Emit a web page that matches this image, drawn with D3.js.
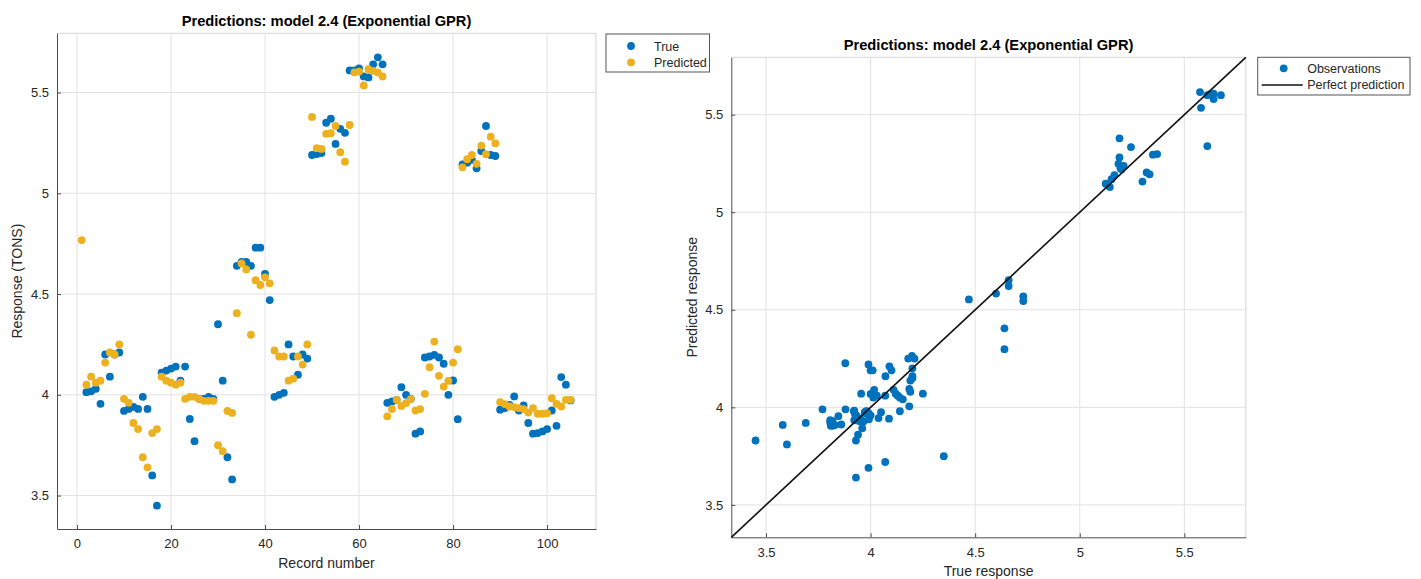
<!DOCTYPE html>
<html>
<head>
<meta charset="utf-8">
<script src="https://cdn.jsdelivr.net/npm/d3@7"></script>
<style>
  body { margin: 0; background: #fff; }
  text { font-family: "Liberation Sans", Arial, sans-serif; fill: #262626; }
  .grid line { stroke: #e2e2e2; }
</style>
</head>
<body>
<div id="chart"></div>
<script>
(function () {

    // record n is at index n - 1 (record 1 has no true value on the axes)
    const trueResp = [null, 4.013, 4.017, 4.03, 3.955, 4.20, 4.09, 4.20, 4.21, 3.92,
        3.93, 3.94, 3.93, 3.99, 3.93, 3.60, 3.45, 4.11, 4.12, 4.13,
        4.14, 4.07, 4.14, 3.88, 3.77, 3.98, 3.98, 3.99, 3.98, 4.35,
        4.07, 3.69, 3.58, 4.64, 4.66, 4.66, 4.64, 4.73, 4.73, 4.60,
        4.47, 3.99, 4.00, 4.01, 4.25, 4.19, 4.10, 4.20, 4.18, 5.19,
        5.195, 5.20, 5.35, 5.37, 5.245, 5.32, 5.30, 5.61, 5.61, 5.62,
        5.58, 5.575, 5.64, 5.675, 5.64, 3.96, 3.967, 3.975, 4.038, 4.00,
        3.98, 3.807, 3.818, 4.185, 4.19, 4.198, 4.185, 4.154, 4.00, 4.071,
        3.879, 5.144, 5.152, 5.166, 5.124, 5.21, 5.334, 5.19, 5.185, 3.926,
        3.934, 3.95, 3.992, 3.922, 3.947, 3.86, 3.807, 3.81, 3.818, 3.83,
        3.922, 3.846, 4.088, 4.05, 3.972]

    const predResp = [4.768, 4.05, 4.09, 4.06, 4.07, 4.16, 4.21, 4.20, 4.25, 3.98,
        3.96, 3.86, 3.83, 3.69, 3.64, 3.81, 3.83, 4.09, 4.07, 4.06,
        4.05, 4.06, 3.98, 3.99, 3.99, 3.98, 3.97, 3.97, 3.97, 3.75,
        3.72, 3.92, 3.91, 4.405, 4.652, 4.622, 4.298, 4.569, 4.545, 4.583,
        4.553, 4.22, 4.19, 4.19, 4.07, 4.08, 4.19, 4.15, 4.25, 5.379,
        5.224, 5.22, 5.295, 5.298, 5.334, 5.204, 5.157, 5.339, 5.60, 5.604,
        5.535, 5.616, 5.608, 5.60, 5.58, 3.893, 3.929, 3.975, 3.945, 3.959,
        3.979, 3.922, 3.929, 4.005, 4.137, 4.264, 4.094, 4.041, 4.069, 4.16,
        4.226, 5.129, 5.169, 5.19, 5.146, 5.237, 5.194, 5.281, 5.248, 3.964,
        3.954, 3.942, 3.939, 3.934, 3.929, 3.912, 3.934, 3.906, 3.906, 3.909,
        3.983, 3.955, 3.942, 3.975, 3.975]

    const recordTicks = [0, 20, 40, 60, 80, 100]
    const responseTicks = [3.5, 4, 4.5, 5, 5.5]
    const recordDomain = [-4.25, 110.4]
    const responseDomain = [3.334, 5.794]

    const title = "Predictions: model 2.4 (Exponential GPR)"
    const BLUE = "#0072BD"
    const YELLOW = "#EDB120"
    const R = 3.9

    const svg = d3.select("#chart")
        .append("svg")
        .attr("width", 1421)
        .attr("height", 579)

    svg.append("rect").attr("width", 1421).attr("height", 579).attr("fill", "#fff")

    function drawFrame(g, x, y, xTicks, yTicks) {
        const [x0, x1] = x.range()
        const [y1, y0] = y.range()

        g.append("g").attr("class", "grid")
            .selectAll("line.v").data(xTicks).enter().append("line")
            .attr("x1", d => x(d)).attr("x2", d => x(d))
            .attr("y1", y0).attr("y2", y1)
        g.append("g").attr("class", "grid")
            .selectAll("line.h").data(yTicks).enter().append("line")
            .attr("x1", x0).attr("x2", x1)
            .attr("y1", d => y(d)).attr("y2", d => y(d))

        // light top/right border
        g.append("path")
            .attr("d", `M${x0},${y0}H${x1}V${y1}`)
            .attr("fill", "none").attr("stroke", "#d4d4d4")

        const xAxis = g.append("g")
            .attr("transform", `translate(0,${y1})`)
            .call(d3.axisBottom(x).tickValues(xTicks).tickSizeInner(-4).tickSizeOuter(0).tickPadding(10).tickFormat(d3.format("")))
        const yAxis = g.append("g")
            .attr("transform", `translate(${x0},0)`)
            .call(d3.axisLeft(y).tickValues(yTicks).tickSizeInner(-4).tickSizeOuter(0).tickPadding(8).tickFormat(d3.format("")))
        for (const a of [xAxis, yAxis]) {
            a.select(".domain").attr("stroke", "#4d4d4d")
            a.selectAll(".tick line").attr("stroke", "#4d4d4d")
            a.selectAll(".tick text")
                .attr("font-family", "Liberation Sans, Arial, sans-serif")
                .attr("font-size", 13).attr("fill", "#333")
        }
    }

    function labels(g, x, y, t, xl, yl, yLabelX) {
        const [x0, x1] = x.range()
        const [y1, y0] = y.range()
        const cx = (x0 + x1) / 2
        g.append("text").attr("x", cx).attr("y", y0 - 7)
            .attr("text-anchor", "middle").attr("font-weight", "bold")
            .attr("font-size", 14.7).style("fill", "#000").text(t)
        g.append("text").attr("x", cx).attr("y", y1 + 39)
            .attr("text-anchor", "middle").attr("font-size", 14).text(xl)
        g.append("text")
            .attr("transform", `translate(${yLabelX},${(y0 + y1) / 2}) rotate(-90)`)
            .attr("text-anchor", "middle").attr("font-size", 14).text(yl)
    }

    // ---------- left: response by record ----------
    const xL = d3.scaleLinear().domain(recordDomain).range([57, 596])
    const yL = d3.scaleLinear().domain(responseDomain).range([529, 33.3])
    const left = svg.append("g")
    drawFrame(left, xL, yL, recordTicks, responseTicks)

    const truePts = trueResp.map((v, i) => ({ rec: i + 1, v })).filter(d => d.v !== null)
    const predPts = predResp.map((v, i) => ({ rec: i + 1, v }))

    left.append("g").selectAll("circle").data(truePts).enter().append("circle")
        .attr("cx", d => xL(d.rec)).attr("cy", d => yL(d.v)).attr("r", R).attr("fill", BLUE)
    left.append("g").selectAll("circle").data(predPts).enter().append("circle")
        .attr("cx", d => xL(d.rec)).attr("cy", d => yL(d.v)).attr("r", R).attr("fill", YELLOW)

    labels(left, xL, yL, title, "Record number", "Response (TONS)", 22)

    const lg1 = svg.append("g").attr("transform", "translate(606,34)")
    lg1.append("rect").attr("width", 103.5).attr("height", 38)
        .attr("fill", "#fff").attr("stroke", "#555")
    ;[["True", BLUE], ["Predicted", YELLOW]].forEach(([name, c], i) => {
        lg1.append("circle").attr("cx", 25).attr("cy", 12 + i * 16.3).attr("r", R).attr("fill", c)
        lg1.append("text").attr("x", 48).attr("y", 16.5 + i * 16.3).attr("font-size", 12.5).text(name)
    })

    // ---------- right: predicted vs true ----------
    const xR = d3.scaleLinear().domain(responseDomain).range([731.3, 1245.8])
    const yR = d3.scaleLinear().domain(responseDomain).range([537.3, 57.3])
    const right = svg.append("g")
    drawFrame(right, xR, yR, responseTicks, responseTicks)

    const obs = trueResp.map((t, i) => ({ t, p: predResp[i] })).filter(d => d.t !== null)
    right.append("g").selectAll("circle").data(obs).enter().append("circle")
        .attr("cx", d => xR(d.t)).attr("cy", d => yR(d.p)).attr("r", R).attr("fill", BLUE)

    right.append("line")
        .attr("x1", xR(responseDomain[0])).attr("y1", yR(responseDomain[0]))
        .attr("x2", xR(responseDomain[1])).attr("y2", yR(responseDomain[1]))
        .attr("stroke", "#111").attr("stroke-width", 1.6)

    labels(right, xR, yR, title, "True response", "Predicted response", 697)

    const lg2 = svg.append("g").attr("transform", "translate(1257.7,57.3)")
    lg2.append("rect").attr("width", 152.3).attr("height", 37.7)
        .attr("fill", "#fff").attr("stroke", "#555")
    lg2.append("circle").attr("cx", 26).attr("cy", 11).attr("r", R).attr("fill", BLUE)
    lg2.append("line").attr("x1", 4).attr("x2", 45).attr("y1", 27.7).attr("y2", 27.7)
        .attr("stroke", "#111").attr("stroke-width", 1.6)
    lg2.append("text").attr("x", 49.5).attr("y", 15.5).attr("font-size", 12.5).text("Observations")
    lg2.append("text").attr("x", 49.5).attr("y", 32).attr("font-size", 12.5).text("Perfect prediction")

})()
</script>
</body>
</html>
